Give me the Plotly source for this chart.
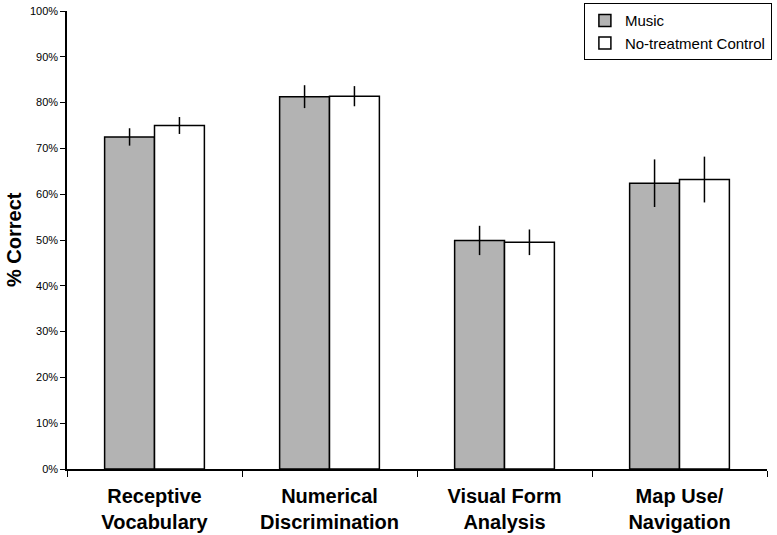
import plotly.graph_objects as go

categories = ["Receptive<br>Vocabulary", "Numerical<br>Discrimination", "Visual Form<br>Analysis", "Map Use/<br>Navigation"]
music = [72.5, 81.3, 49.9, 62.4]
music_err = [1.9, 2.5, 3.2, 5.2]
control = [75.0, 81.4, 49.5, 63.2]
control_err = [1.85, 2.2, 2.8, 5.0]
y_ticks = [0, 10, 20, 30, 40, 50, 60, 70, 80, 90, 100]
y_tick_labels = [f"{v}%" for v in y_ticks]

FONT = "Liberation Sans, Arial, sans-serif"

fig = go.Figure()
fig.add_trace(go.Bar(
    name="Music", x=categories, y=music,
    marker=dict(color="#b3b3b3", line=dict(color="black", width=1.5)),
    error_y=dict(type="data", array=music_err, color="black", thickness=1.5, width=0),
))
fig.add_trace(go.Bar(
    name="No-treatment Control", x=categories, y=control,
    marker=dict(color="white", line=dict(color="black", width=1.5)),
    error_y=dict(type="data", array=control_err, color="black", thickness=1.5, width=0),
))

fig.update_layout(
    width=777, height=535,
    margin=dict(l=67, r=10, t=11, b=66, autoexpand=False),
    paper_bgcolor="white", plot_bgcolor="white",
    barmode="group", bargap=0.43, bargroupgap=0,
    font=dict(family=FONT, color="black"),
    showlegend=True,
    legend=dict(
        x=1.007, y=1.017, xanchor="right", yanchor="top",
        bordercolor="black", borderwidth=1, bgcolor="white",
        font=dict(size=15), itemwidth=30,
        tracegroupgap=0, itemclick=False,
    ),
    xaxis=dict(
        type="category", tickson="boundaries", ticks="outside", ticklen=6,
        tickcolor="black", tickwidth=1, showline=True, linecolor="black",
        linewidth=1.5, showgrid=False, automargin=False,
        ticklabelstandoff=8,
        tickfont=dict(size=20, family=FONT, weight="bold"),
    ),
    yaxis=dict(
        range=[0, 100], tickvals=y_ticks, ticktext=y_tick_labels,
        ticks="outside", ticklen=5, tickcolor="black", showline=True,
        linecolor="black", linewidth=1.5, showgrid=False, zeroline=False,
        automargin=False, tickfont=dict(size=11),
    ),
    annotations=[dict(
        text="% Correct", textangle=-90, xref="paper", yref="paper",
        x=-0.0757, y=0.5, xanchor="center", yanchor="middle", showarrow=False,
        font=dict(size=20, family=FONT, weight="bold"),
    )],
)

fig.write_html("out.html", config={"displayModeBar": False},
               post_script="document.body.style.margin='0';")
